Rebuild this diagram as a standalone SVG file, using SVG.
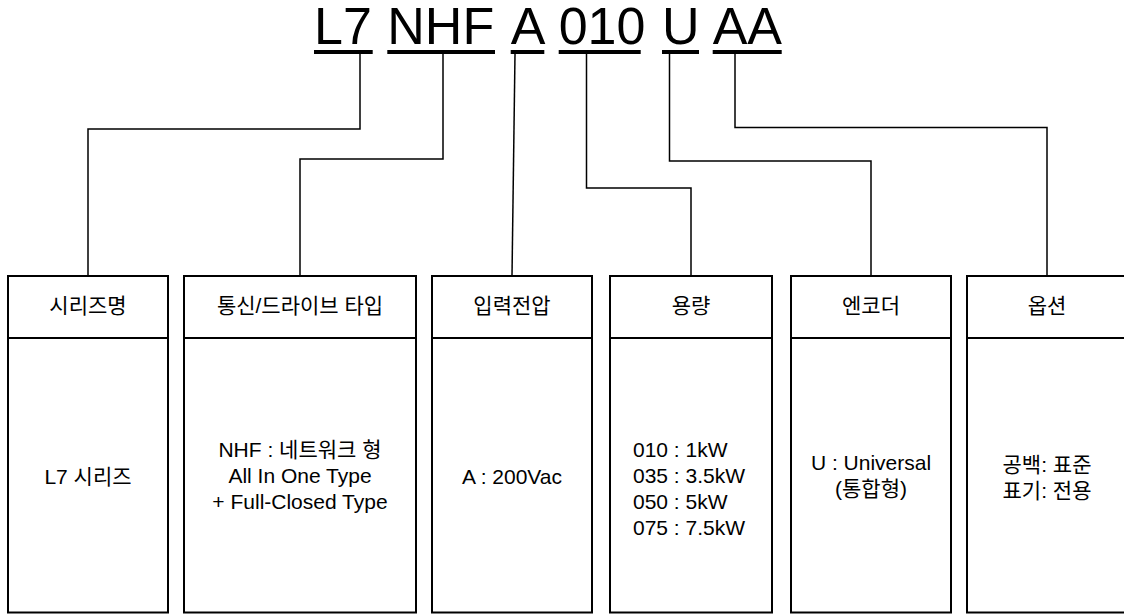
<svg xmlns="http://www.w3.org/2000/svg" width="1124" height="614" viewBox="0 0 1124 614">
<style>
.t{font-family:"Liberation Sans",Arial,"Noto Sans CJK KR",sans-serif;fill:#000}
.title{font-size:52px}
.hd{font-size:21px;text-anchor:middle}
.bd{font-size:21px;text-anchor:middle}
.box{fill:#fff;stroke:#000;stroke-width:2}
.div{stroke:#000;stroke-width:2}
.con{fill:none;stroke:#000;stroke-width:1.5}
</style>
<rect width="1124" height="614" fill="#fff"/>
<g id="title">
<text class="t title" x="314" y="44">L7</text>
<text class="t title" x="387.3" y="44">NHF</text>
<text class="t title" x="510.7" y="44">A</text>
<text class="t title" x="558.7" y="44">010</text>
<text class="t title" x="662" y="44">U</text>
<text class="t title" x="712.7" y="44">AA</text>
<rect x="314" y="50" width="58.7" height="4"/>
<rect x="387.3" y="50" width="107.7" height="4"/>
<rect x="510.7" y="50" width="33.6" height="4"/>
<rect x="558.7" y="50" width="82" height="4"/>
<rect x="662" y="50" width="37" height="4"/>
<rect x="712.7" y="50" width="69" height="4"/>
</g>
<g id="connectors">
<path class="con" d="M360,54 V129 H88 V276"/>
<path class="con" d="M443,54 V159 H300 V276"/>
<path class="con" d="M515,54 L512,276"/>
<path class="con" d="M586.5,54 V188 H691 V276"/>
<path class="con" d="M669.5,54 V161 H871 V276"/>
<path class="con" d="M735,54 V127.5 H1047 V276"/>
</g>
<g id="series">
<rect class="box" x="8" y="276" width="160" height="336.5"/>
<line class="div" x1="8" y1="338" x2="168" y2="338"/>
<text class="t hd" x="88" y="313">시리즈명</text>
<text class="t bd" x="88" y="484">L7 시리즈</text>
</g>
<g id="comm">
<rect class="box" x="184" y="276" width="232" height="336.5"/>
<line class="div" x1="184" y1="338" x2="416" y2="338"/>
<text class="t hd" x="300" y="313">통신/드라이브 타입</text>
<text class="t bd" x="300" y="457">NHF : 네트워크 형</text>
<text class="t bd" x="300" y="483">All In One Type</text>
<text class="t bd" x="300" y="509">+ Full-Closed Type</text>
</g>
<g id="voltage">
<rect class="box" x="432" y="276" width="160" height="336.5"/>
<line class="div" x1="432" y1="338" x2="592" y2="338"/>
<text class="t hd" x="512" y="313">입력전압</text>
<text class="t bd" x="512" y="484">A : 200Vac</text>
</g>
<g id="capacity">
<rect class="box" x="610" y="276" width="162" height="336.5"/>
<line class="div" x1="610" y1="338" x2="772" y2="338"/>
<text class="t hd" x="691" y="313">용량</text>
<text class="t bd" x="633" y="457" style="text-anchor:start">010 : 1kW</text>
<text class="t bd" x="633" y="483" style="text-anchor:start">035 : 3.5kW</text>
<text class="t bd" x="633" y="509" style="text-anchor:start">050 : 5kW</text>
<text class="t bd" x="633" y="535" style="text-anchor:start">075 : 7.5kW</text>
</g>
<g id="encoder">
<rect class="box" x="791" y="276" width="160" height="336.5"/>
<line class="div" x1="791" y1="338" x2="951" y2="338"/>
<text class="t hd" x="871" y="313">엔코더</text>
<text class="t bd" x="871" y="470">U : Universal</text>
<text class="t bd" x="871" y="496">(통합형)</text>
</g>
<g id="option">
<rect class="box" x="967" y="276" width="160" height="336.5"/>
<line class="div" x1="967" y1="338" x2="1127" y2="338"/>
<text class="t hd" x="1047" y="313">옵션</text>
<text class="t bd" x="1047" y="472">공백: 표준</text>
<text class="t bd" x="1047" y="498">표기: 전용</text>
</g>
</svg>
